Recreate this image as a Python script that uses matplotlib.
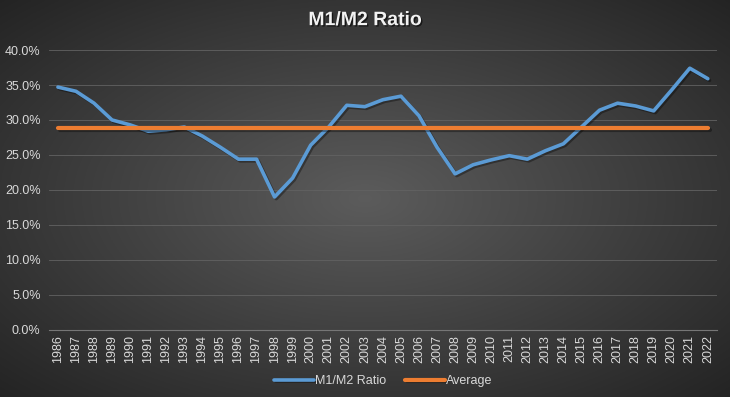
import matplotlib
matplotlib.use("Agg")
import matplotlib.pyplot as plt
import matplotlib.patheffects as pe
from matplotlib.ticker import PercentFormatter
import numpy as np

# data
years = list(range(1986, 2023))
ratio = [34.7, 34.1, 32.4, 30.0, 29.3, 28.4, 28.6, 29.0, 27.7, 26.1,
         24.4, 24.4, 19.0, 21.7, 26.4, 29.0, 32.1, 31.9, 32.9, 33.4,
         30.6, 26.1, 22.3, 23.6, 24.3, 24.9, 24.4, 25.6, 26.6, 29.0,
         31.4, 32.4, 32.0, 31.3, 34.3, 37.4, 35.9]
average = [float(np.mean(ratio))] * len(years)

plt.rcParams['font.family'] = ['Liberation Sans', 'DejaVu Sans']

fig = plt.figure(figsize=(7.3, 3.97), dpi=100)

# radial gradient background
bg = fig.add_axes([0, 0, 1, 1], zorder=-10)
gx, gy = np.meshgrid(np.linspace(-1, 1, 400), np.linspace(-1, 1, 220))
r = np.sqrt(gx**2 + gy**2) / np.sqrt(2)
shade = 0.36 - 0.22 * r
bg.imshow(np.dstack([shade, shade, shade]), aspect='auto', extent=[0, 1, 0, 1])
bg.axis('off')

ax = fig.add_axes([0.067, 0.169, 0.915, 0.705])
ax.patch.set_alpha(0)
x = np.arange(len(years))

shadow = [pe.SimpleLineShadow(offset=(1.2, -1.2), shadow_color='black', alpha=0.35), pe.Normal()]
ax.plot(x, ratio, color='#5B9BD5', lw=2.6, label='M1/M2 Ratio',
        solid_capstyle='round', solid_joinstyle='round', path_effects=shadow, zorder=3)
ax.plot(x, average, color='#ED7D31', lw=3.0, label='Average',
        solid_capstyle='round', path_effects=shadow, zorder=4)

ax.set_xlim(-0.5, len(years) - 0.5)
ax.set_ylim(0, 40)
ax.set_yticks(np.arange(0, 41, 5))
ax.yaxis.set_major_formatter(PercentFormatter(decimals=1))
ax.set_xticks(x)
ax.set_xticklabels([str(y) for y in years], rotation=90)
ax.tick_params(colors='#d9d9d9', labelsize=9, length=0)
ax.tick_params(axis='y', pad=6)
ax.grid(axis='y', color='#626262', lw=0.6)
ax.set_axisbelow(True)
for s in ['top', 'right', 'left']:
    ax.spines[s].set_visible(False)
ax.spines['bottom'].set_color('#767676')

title = fig.text(0.5, 0.948, 'M1/M2 Ratio', ha='center', va='center', color='#f2f2f2',
                 fontsize=14, fontweight='bold')
title.set_path_effects([pe.withSimplePatchShadow(offset=(1, -1), shadow_rgbFace='black', alpha=0.6)])

leg = fig.legend(loc='center', bbox_to_anchor=(0.525, 0.04), ncol=2, frameon=False,
                 fontsize=9, labelcolor='#d9d9d9', handlelength=3.2,
                 handletextpad=0.1, columnspacing=1.5)

fig.savefig('out.png', dpi=100)
